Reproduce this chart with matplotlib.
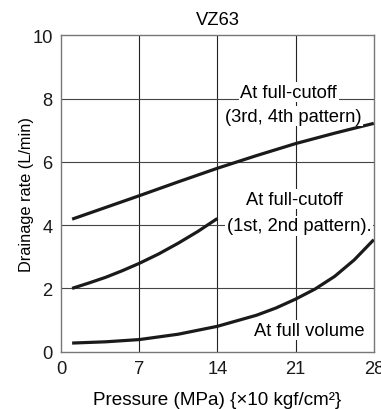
import matplotlib.pyplot as plt

plt.rcParams['font.family'] = ['Liberation Sans', 'DejaVu Sans']

# curves
x_full_34 = [1, 4, 7, 10.5, 14, 17.5, 21, 24.5, 28]
y_full_34 = [4.19, 4.56, 4.93, 5.37, 5.80, 6.20, 6.58, 6.91, 7.22]

x_full_12 = [1, 2.5, 4, 5.5, 7, 8.75, 10.5, 12.25, 14]
y_full_12 = [2.0, 2.17, 2.35, 2.56, 2.79, 3.09, 3.43, 3.80, 4.21]

x_volume = [1, 4, 7, 10.5, 14, 17.5, 19.25, 21, 22.75, 24.5, 26.25, 28]
y_volume = [0.27, 0.31, 0.38, 0.55, 0.80, 1.15, 1.38, 1.66, 1.98, 2.38, 2.90, 3.54]

xticks = [0, 7, 14, 21, 28]
yticks = [0, 2, 4, 6, 8, 10]

fig = plt.figure(figsize=(3.81, 4.10), dpi=100)
ax = fig.add_axes([0.160, 0.140, 0.821, 0.771])

for xv in xticks[1:-1]:
    ax.axvline(xv, color='#222222', lw=0.8, zorder=1)
for yv in yticks[1:-1]:
    ax.axhline(yv, color='#444444', lw=0.8, zorder=1)

for xs, ys in [(x_full_34, y_full_34), (x_full_12, y_full_12), (x_volume, y_volume)]:
    ax.plot(xs, ys, color='#1a1a1a', lw=2.3, solid_capstyle='butt',
            solid_joinstyle='round', zorder=3)

box = dict(facecolor='white', edgecolor='none', pad=1.0)
fs = 13.2
ax.text(20.4, 8.2, 'At full-cutoff', ha='center', va='center', fontsize=fs, bbox=box, zorder=4)
ax.text(20.8, 7.45, '(3rd, 4th pattern)', ha='center', va='center', fontsize=fs, bbox=box, zorder=4)
ax.text(20.9, 4.82, 'At full-cutoff', ha='center', va='center', fontsize=fs, bbox=box, zorder=4)
ax.text(21.3, 3.98, '(1st, 2nd pattern).', ha='center', va='center', fontsize=fs, bbox=box, zorder=4)
ax.text(22.2, 0.67, 'At full volume', ha='center', va='center', fontsize=fs, bbox=box, zorder=4)

ax.set_xlim(0, 28)
ax.set_ylim(0, 10)
ax.set_xticks(xticks)
ax.set_yticks(yticks)
ax.tick_params(length=0, labelsize=13.2, pad=6, colors='#1a1a1a')
for s in ax.spines.values():
    s.set_color('#777777')
    s.set_linewidth(1.0)

ax.set_title('VZ63', fontsize=13.2, pad=8)
ax.set_xlabel('Pressure (MPa) {×10 kgf/cm²}', fontsize=13.6, labelpad=10)
ax.set_ylabel('Drainage rate (L/min)', fontsize=11.8, labelpad=-1)

fig.savefig('out.png', dpi=100)
